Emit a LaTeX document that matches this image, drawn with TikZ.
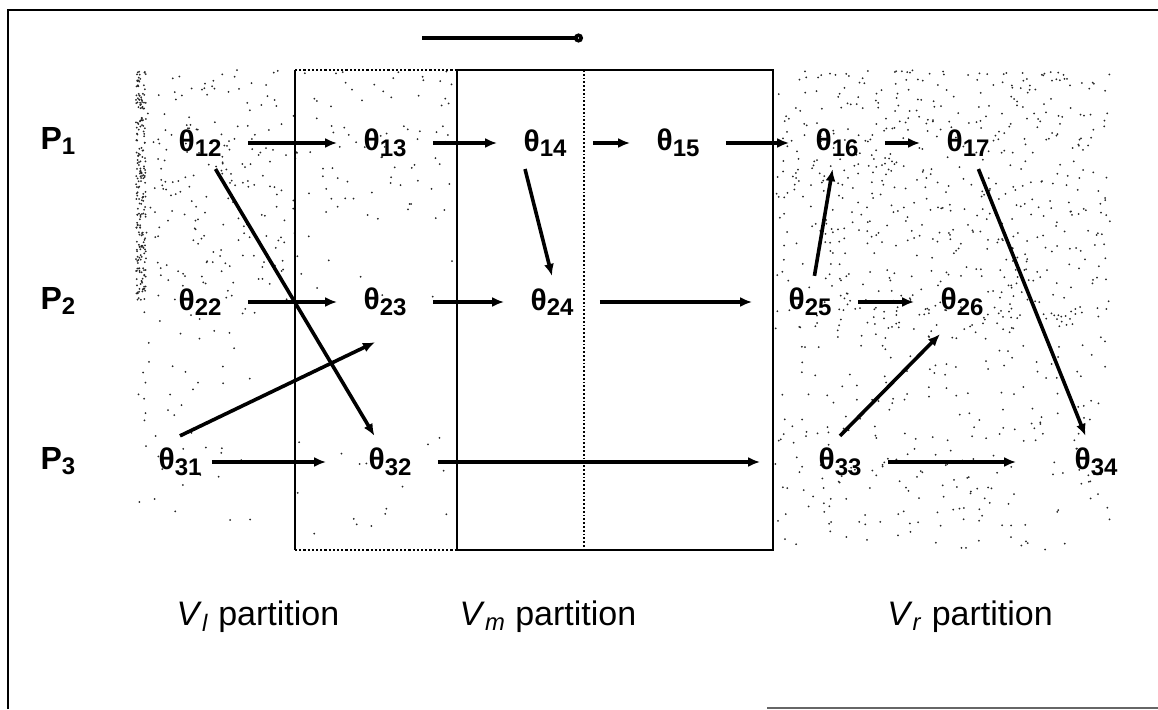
\documentclass[tikz,border=0pt]{standalone}
\usepackage{fontspec}
\setmainfont{Liberation Sans}
\usepackage{tikz}
\usetikzlibrary{arrows.meta}
\tikzstyle{ev}=[font=\fontsize{15}{17}\selectfont\bfseries,% event label
inner xsep=13pt,inner ysep=6pt]
\tikzstyle{proc}=[font=\fontsize{16}{18}\selectfont\bfseries]
\tikzstyle{part}=[font=\fontsize{17}{20}\selectfont]
\tikzstyle{msg}=[-{Latex[length=6pt,width=5pt]}, line width=1.8pt]
\tikzstyle{stip}=[fill=black!85]
\newcommand{\evt}[1]{θ\raisebox{-0.35ex}{\fontsize{12}{14}\selectfont #1}}
\newcommand{\prc}[1]{P\raisebox{-0.3ex}{\fontsize{12}{14}\selectfont #1}}

\begin{document}
\begin{tikzpicture}[x=0.5pt,y=-0.5pt]
\useasboundingbox (0,0) rectangle (1158,709);

% frame
\draw[line width=1pt] (8,709) -- (8,10) -- (1158,10);
\draw[black!60,line width=0.8pt] (767,708) -- (1158,708);

% stippled areas
\pgfmathsetseed{7}
\foreach \i in {1,...,220} {\fill[stip] ({136+10*rnd},{70+230*rnd}) circle (0.5pt);}
\foreach \i in {1,...,200} {\fill[stip] ({136+159*rnd},{70+230*rnd}) circle (0.5pt);}
\foreach \i in {1,...,50} {\fill[stip] ({136+120*rnd},{300+220*rnd}) circle (0.5pt);}
\foreach \i in {1,...,80} {\fill[stip] ({295+162*rnd},{70+150*rnd}) circle (0.5pt);}
\foreach \i in {1,...,25} {\fill[stip] ({295+162*rnd},{220+330*rnd}) circle (0.5pt);}
\foreach \i in {1,...,650} {\fill[stip] ({775+335*rnd},{70+260*rnd}) circle (0.5pt);}
\foreach \i in {1,...,260} {\fill[stip] ({775+335*rnd},{330+220*rnd}) circle (0.5pt);}

% partitions
\draw[line width=1.1pt] (295,70) -- (295,550);
\draw[line width=1.1pt,densely dotted] (295,70) -- (457,70);
\draw[line width=1.1pt,densely dotted] (295,550) -- (457,550);
\draw[line width=1.4pt] (457,70) rectangle (773,550);
\draw[line width=0.9pt,densely dotted] (584,70) -- (584,550);

% direction of time
\coordinate (dirA) at (422,38);
\coordinate (dirB) at (583,38);
\draw[line width=1.8pt,-{Circle[open,length=4.5pt]}] (dirA) -- (dirB);

% processes
\node[proc] (p1) at (58,141) {\prc{1}};
\node[proc] (p2) at (58,301) {\prc{2}};
\node[proc] (p3) at (58,461) {\prc{3}};

\node[ev] (t12) at (200,143) {\evt{12}};
\node[ev] (t13) at (385,143) {\evt{13}};
\node[ev] (t14) at (545,143) {\evt{14}};
\node[ev] (t15) at (678,143) {\evt{15}};
\node[ev] (t16) at (837,143) {\evt{16}};
\node[ev] (t17) at (968,143) {\evt{17}};

\node[ev] (t22) at (200,302) {\evt{22}};
\node[ev] (t23) at (385,302) {\evt{23}};
\node[ev] (t24) at (552,302) {\evt{24}};
\node[ev] (t25) at (810,302) {\evt{25}};
\node[ev] (t26) at (962,302) {\evt{26}};

\node[ev] (t31) at (180,462) {\evt{31}};
\node[ev] (t32) at (390,462) {\evt{32}};
\node[ev] (t33) at (840,462) {\evt{33}};
\node[ev] (t34) at (1096,462) {\evt{34}};

\node[part] (vl) at (258,617) {\textit{V}\textsubscript{\textit{l}} partition};
\node[part] (vm) at (548,617) {\textit{V}\textsubscript{\textit{m}} partition};
\node[part] (vr) at (970,617) {\textit{V}\textsubscript{\textit{r}} partition};

% messages
\draw[msg] (t12) -- (t13);
\draw[msg] (t13) -- (t14);
\draw[msg] (t14) -- (t15);
\draw[msg] (t15) -- (t16);
\draw[msg] (t16) -- (t17);
\draw[msg] (t12) -- (t32);
\draw[msg] ([xshift=-10pt]t14.south) -- (t24.north);

\draw[msg] (t22) -- (t23);
\draw[msg] (t23) -- (t24);
\draw[msg,shorten >=5pt] (t24) -- (t25);
\draw[msg] (t25) -- (t16);
\draw[msg] (t25) -- (t26);
\draw[msg] (t17) -- (t34);

\draw[msg] (t31.north) -- ([xshift=-5pt,yshift=-7pt]t23.south);
\draw[msg,shorten <=-8pt,shorten >=8pt] (t31) -- (t32);
\draw[msg,shorten >=16pt] (t32) -- (t33);
\draw[msg,shorten >=16pt] (t33) -- (t34);
\draw[msg] (t33.north) -- ([xshift=-11pt,yshift=-3pt]t26.south);

\end{tikzpicture}
\end{document}
